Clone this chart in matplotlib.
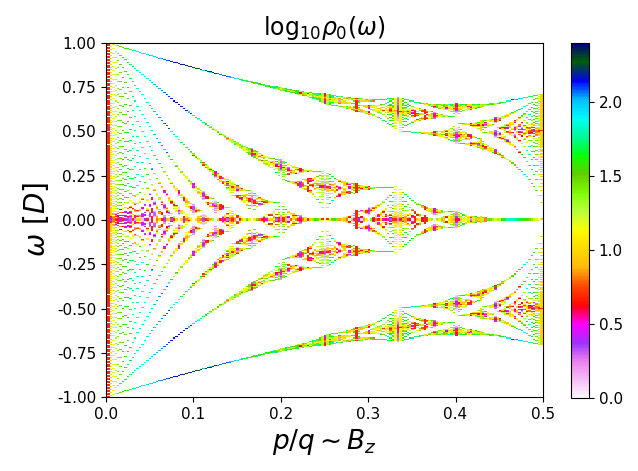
import numpy as np
import matplotlib.pyplot as plt
from math import gcd

# Hofstadter model on an L x L square lattice, fluxes p/L, energies in units of D = 4t
L = 360
p_values = np.arange(0, L // 2 + 1)
t = 1.0
omega_lo, omega_hi = -1.0, 1.0
n_bins = 3520
pool = 10

tick_x = [0.0, 0.1, 0.2, 0.3, 0.4, 0.5]
tick_y = [-1.0, -0.75, -0.5, -0.25, 0.0, 0.25, 0.5, 0.75, 1.0]
cbar_ticks = [0.0, 0.5, 1.0, 1.5, 2.0]
vmin, vmax = 0.0, 2.4


def harper_levels(p, L):
    g = gcd(p, L)
    pp, q = p // g, L // g
    phi = pp / q
    n = np.arange(q)
    nk = L // q
    K = 2 * np.pi * np.arange(nk) / nk
    ky = 2 * np.pi * np.arange(nk) / L
    KX, KY = [a.ravel() for a in np.meshgrid(K, ky)]
    H = np.zeros((KX.size, q, q), dtype=complex)
    H[:, n, n] += 2 * t * np.cos(KY[:, None] + 2 * np.pi * phi * n[None, :])
    nxt = (n + 1) % q
    for i in range(q):
        hop = t * np.exp(1j * KX) if i == q - 1 else t
        H[:, i, nxt[i]] += hop
        H[:, nxt[i], i] += np.conj(hop)
    return np.linalg.eigvalsh(H).ravel()


edges = np.linspace(omega_lo, omega_hi, n_bins + 1)
dw = edges[1] - edges[0]
rho = np.zeros((n_bins, len(p_values)))
for j, p in enumerate(p_values):
    E = harper_levels(int(p), L) / (4 * t)
    E = np.clip(E, omega_lo, omega_hi)
    counts, _ = np.histogram(E, bins=edges)
    rho[:, j] = counts / (E.size * dw)

# typical non-zero density inside each pixel row
blocks = rho.reshape(n_bins // pool, pool, -1)
blocks = np.where(blocks > 0, blocks, np.nan)
with np.errstate(all="ignore"):
    import warnings
    warnings.simplefilter("ignore")
    rho_px = np.nanmedian(blocks, axis=1)
    logrho = np.ma.masked_invalid(np.log10(rho_px))

fig = plt.figure(figsize=(6.38, 4.71), dpi=100)
ax = fig.add_axes([0.166, 0.157, 0.685, 0.752])
cax = fig.add_axes([0.895, 0.155, 0.028, 0.754])

dphi = 1.0 / L
im = ax.imshow(logrho, origin="lower", aspect="auto", cmap="gist_ncar_r",
               vmin=vmin, vmax=vmax, interpolation="nearest",
               extent=[-dphi / 2, 0.5 + dphi / 2, omega_lo, omega_hi])
ax.set_xlim(0, 0.5)
ax.set_ylim(-1, 1)
ax.set_xticks(tick_x)
ax.set_yticks(tick_y)
ax.set_yticklabels([f"{v:.2f}" for v in tick_y])
ax.tick_params(labelsize=11)
ax.set_title(r"$\mathrm{log}_{10}\rho_0(\omega)$", fontsize=17)
ax.set_xlabel(r"$p/q \sim B_z$", fontsize=19)
ax.set_ylabel(r"$\omega\ [D]$", fontsize=20)

cb = fig.colorbar(im, cax=cax, ticks=cbar_ticks)
cb.ax.tick_params(labelsize=11)

fig.savefig("out.png", dpi=100)
